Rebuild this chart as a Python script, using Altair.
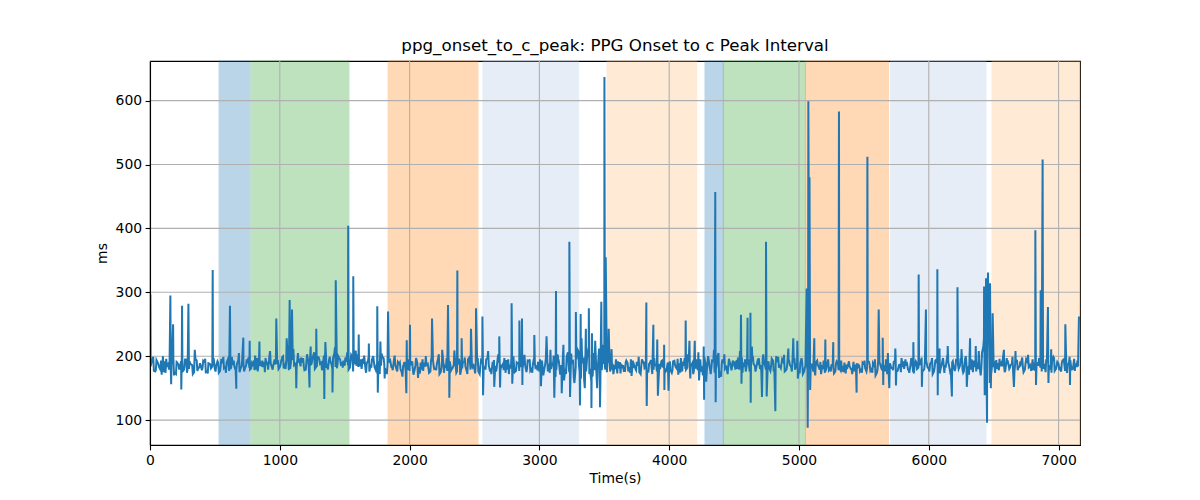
import altair as alt
import pandas as pd

TITLE = "ppg_onset_to_c_peak: PPG Onset to c Peak Interval"

base_vals = [
    182, 196, 176, 190, 179, 200, 174, 188, 181, 197, 172, 186, 192, 178, 195, 180, 187, 175, 193, 183, 178, 191, 176, 188, 184,
    179, 192, 177, 189, 183, 195, 180, 186, 178, 194, 182, 190, 185, 198, 181, 193, 179, 196, 184, 191, 186, 200, 182, 195, 188,
    183, 199, 186, 202, 180, 194, 188, 205, 184, 197, 179, 192, 187, 203, 183, 198, 190, 201, 182, 195, 186, 204, 181, 196, 189,
    185, 206, 182, 198, 190, 203, 184, 196, 180, 193, 187, 200, 178, 192, 185, 197, 176, 190, 183, 195, 179, 188, 174, 191, 182,
    177, 192, 180, 189, 173, 195, 184, 188, 176, 194, 181, 197, 175, 190, 183, 199, 178, 186, 174, 196, 182, 191, 177, 198, 185,
    180, 194, 172, 189, 183, 197, 176, 191, 185, 199, 178, 188, 174, 195, 181, 200, 177, 190, 183, 196, 175, 192, 180, 198, 184,
    176, 193, 182, 199, 174, 190, 185, 203, 171, 195, 180, 206, 168, 192, 183, 208, 165, 198, 176, 215, 160, 205, 170, 212, 178,
    188, 175, 194, 179, 186, 173, 191, 181, 177, 189, 174, 193, 180, 185, 172, 190, 183, 176, 194, 179, 187, 171, 192, 182, 178,
    186, 174, 193, 180, 189, 176, 197, 182, 175, 190, 184, 178, 195, 170, 188, 200, 172, 192, 181, 205, 168, 189, 183, 196, 178,
    187, 194, 179, 198, 183, 190, 176, 200, 185, 192, 180, 196, 184, 189, 177, 193, 186, 199, 181, 191, 178, 195, 183, 190, 186,
    180, 197, 176, 192, 182, 188, 177, 193, 179, 186, 174, 190, 181, 187, 176, 189, 178, 185, 173, 188, 180, 191, 175, 186, 179,
    188, 176, 191, 180, 185, 174, 190, 178, 186, 172, 189, 181, 193, 177, 187, 183, 195, 179, 188, 175, 192, 182, 186, 178, 194,
    180, 191, 176, 195, 183, 188, 174, 197, 181, 190, 177, 193, 185, 179, 196, 182, 188, 175, 194, 180, 170, 215, 160, 225, 172,
    183, 194, 178, 190, 185, 197, 180, 188, 176, 193, 184, 198, 179, 191, 186, 195, 177, 189, 182, 196, 175, 192, 184, 199, 180,
    188, 176, 195, 181, 190, 178, 196, 183,
]
# Baseline samples at t = 10, 30, 50, ...
base_vals_odd = [
    189, 177, 194, 183, 171, 192, 185, 179, 198, 174, 190, 183, 176, 195, 181, 188, 172, 196, 180, 186, 193, 175, 189, 181, 197,
    185, 174, 196, 181, 190, 177, 199, 184, 188, 175, 194, 180, 192, 179, 187, 201, 176, 190, 183, 197, 179, 189, 186, 192, 180,
    192, 181, 195, 178, 201, 186, 183, 196, 190, 178, 203, 185, 194, 180, 199, 188, 184, 207, 179, 192, 197, 183, 200, 187, 193,
    191, 179, 202, 188, 185, 197, 180, 201, 189, 176, 195, 183, 190, 172, 199, 181, 187, 194, 178, 186, 191, 180, 184, 177, 195,
    186, 171, 197, 183, 179, 190, 186, 174, 199, 180, 188, 172, 193, 185, 177, 192, 181, 195, 187, 171, 190, 184, 195, 179, 188,
    188, 176, 193, 179, 195, 186, 172, 194, 180, 190, 184, 197, 179, 187, 192, 175, 189, 196, 180, 186, 193, 177, 188, 182, 191,
    186, 170, 197, 188, 180, 201, 178, 192, 186, 162, 199, 175, 190, 158, 212, 176, 189, 150, 204, 180, 168, 224, 182, 160, 218,
    179, 190, 184, 172, 195, 181, 188, 177, 193, 183, 169, 186, 191, 175, 195, 181, 177, 189, 172, 186, 193, 180, 184, 175, 190,
    178, 192, 183, 171, 197, 185, 179, 191, 186, 177, 195, 162, 184, 199, 178, 186, 193, 174, 198, 176, 195, 180, 172, 189, 193,
    179, 198, 185, 190, 176, 195, 184, 188, 181, 197, 175, 191, 188, 182, 196, 180, 191, 185, 195, 176, 188, 186, 193, 179, 196,
    189, 172, 185, 193, 180, 176, 190, 184, 172, 193, 181, 178, 186, 173, 192, 182, 176, 190, 180, 184, 172, 187, 182, 176, 190,
    181, 193, 177, 189, 170, 193, 184, 180, 195, 178, 182, 191, 176, 186, 197, 180, 191, 174, 193, 184, 180, 195, 176, 191, 183,
    188, 172, 193, 186, 179, 197, 182, 191, 177, 185, 194, 180, 192, 176, 188, 171, 195, 183, 190, 186, 205, 165, 210, 158, 200,
    174, 189, 186, 195, 178, 191, 186, 174, 194, 182, 189, 175, 195, 183, 177, 190, 186, 197, 176, 188, 190, 180, 193, 177, 191,
    181, 193, 177, 186, 194, 179, 189, 184,
]
# Baseline samples at t = 5, 25, 45, ...
base_vals_q = [
    184, 199, 178, 187, 193, 175, 196, 181, 186, 170, 191, 179, 198, 183, 174, 192, 186, 210, 177, 189, 182, 196, 173, 187, 191,
    176, 190, 186, 199, 174, 188, 182, 193, 179, 205, 184, 176, 195, 182, 189, 178, 197, 185, 193, 175, 191, 208, 179, 187, 194,
    186, 200, 180, 193, 189, 211, 179, 190, 198, 184, 192, 176, 188, 206, 183, 195, 178, 191, 187, 199, 180, 214, 188, 195, 182,
    198, 186, 193, 176, 209, 183, 195, 188, 174, 200, 182, 191, 185, 179, 204, 188, 172, 193, 183, 201, 176, 190, 168, 186, 179,
    192, 180, 186, 166, 190, 177, 200, 181, 193, 185, 178, 203, 182, 174, 197, 186, 180, 209, 176, 192, 181, 198, 172, 190, 183,
    173, 197, 184, 190, 179, 208, 181, 186, 176, 203, 185, 178, 194, 172, 199, 183, 190, 177, 186, 202, 181, 195, 174, 189, 178,
    195, 181, 188, 176, 210, 185, 168, 196, 180, 218, 172, 188, 204, 166, 195, 185, 228, 162, 190, 172, 236, 178, 150, 200, 190,
    182, 196, 176, 188, 180, 192, 173, 186, 190, 176, 195, 182, 178, 199, 185, 190, 174, 188, 181, 197, 176, 188, 193, 181, 186,
    192, 178, 186, 196, 174, 191, 180, 203, 188, 172, 181, 206, 176, 190, 160, 194, 182, 210, 184, 166, 188, 203, 179, 192, 184,
    192, 180, 208, 174, 195, 187, 181, 199, 176, 190, 186, 203, 179, 192, 185, 176, 200, 182, 188, 202, 180, 192, 176, 197, 183,
    173, 189, 182, 178, 192, 184, 170, 186, 191, 180, 184, 195, 176, 182, 188, 178, 193, 175, 187, 192, 180, 176, 189, 184, 174,
    193, 182, 186, 174, 195, 179, 188, 191, 176, 205, 186, 178, 197, 181, 175, 192, 185, 179, 197, 173, 190, 185, 198, 180, 188,
    176, 197, 182, 189, 173, 193, 186, 204, 175, 192, 181, 187, 197, 174, 200, 183, 179, 193, 176, 208, 182, 228, 172, 235, 180,
    192, 180, 196, 184, 175, 190, 182, 199, 187, 178, 192, 183, 188, 202, 181, 178, 193, 185, 210, 180, 195, 186, 174, 197, 185,
    178, 190, 186, 174, 199, 184, 177, 193,
]
base_t = list(range(0, 20 * len(base_vals), 20))
base_t_odd = list(range(10, 20 * len(base_vals_odd) + 10, 20))
base_t_q = list(range(5, 20 * len(base_vals_q) + 5, 20))

# Spikes and dips (time in s, value in ms)
spike_t = [3, 157, 163, 178, 241, 247, 296, 483, 616, 665, 719, 768, 843, 973, 1053, 1076, 1094, 1127,
           1229, 1238, 1281, 1343, 1351, 1406, 1431, 1527, 1566, 1608, 1686, 1751, 1755, 1775, 1808,
           1834, 1975, 1978, 2003, 2173, 2251, 2296, 2306, 2368, 2401, 2473, 2512, 2561, 2566, 2652,
           2691, 2697, 2786, 2791, 2846, 2866, 2869, 2961, 3012, 3055, 3115, 3128, 3172, 3231, 3236,
           3281, 3313, 3318, 3358, 3381, 3401, 3467, 3477, 3501, 3511, 3534, 3556, 3824, 3827, 3878,
           3908, 3913, 3961, 3963, 3995, 4127, 4156, 4163, 4197, 4266, 4269, 4355, 4358, 4553, 4557,
           4604, 4626, 4628, 4637, 4715, 4746, 4751, 4818, 4918, 4956, 4987, 4991, 5059, 5067, 5072,
           5081, 5086, 5118, 5203, 5264, 5308, 5444, 5527, 5614, 5645, 5649, 5696, 5742, 5747, 5881,
           5922, 5947, 5978, 6066, 6069, 6083, 6146, 6178, 6221, 6252, 6293, 6318, 6362, 6426, 6431,
           6441, 6449, 6456, 6472, 6478, 6492, 6579, 6656, 6668, 6821, 6826, 6862, 6877, 6918, 6922,
           6943, 7052, 7088, 7157]
spike_v = [297, 295, 156, 250, 148, 279, 282, 335, 279, 149, 229, 224, 223, 259, 228, 288, 273, 150,
           151, 215, 243, 133, 222, 143, 319, 404, 325, 234, 220, 278, 143, 223, 165,
           270, 142, 225, 249, 259, 210, 280, 135, 334, 228, 243, 275, 262, 139, 152,
           231, 151, 283, 157, 256, 259, 155, 233, 153, 231, 135, 302, 142, 379, 136,
           269, 123, 266, 243, 275, 119, 120, 285, 637, 355, 243, 211, 284, 122, 249,
           226, 138, 218, 147, 146, 256, 224, 165, 224, 215, 132, 457, 128, 265, 157,
           260, 268, 127, 215, 136, 379, 137, 114, 212, 228, 224, 165, 306, 88, 599,
           480, 147, 228, 226, 222, 583, 143, 512, 273, 229, 155, 150, 212, 154, 222,
           328, 152, 273, 336, 139, 212, 216, 137, 308, 211, 152, 228, 216, 309, 139,
           322, 96, 331, 314, 150, 267, 210, 152, 208, 397, 155, 303, 508, 277, 158,
           211, 250, 155, 262]

# Shaded periods
span_start = [532, 778, 1834, 2565, 3521, 4276, 4417, 5049, 5706, 6487]
span_end = [770, 1533, 2527, 3302, 4212, 4417, 5049, 5690, 6441, 7165]
span_color = ["#1f77b4", "#2ca02c", "#ff7f0e", "#aec7e8", "#ffbb78",
              "#1f77b4", "#2ca02c", "#ff7f0e", "#aec7e8", "#ffbb78"]

x_ticks = [0, 1000, 2000, 3000, 4000, 5000, 6000, 7000]
y_ticks = [100, 200, 300, 400, 500, 600]

pts = sorted(list(zip(base_t, base_vals)) + list(zip(base_t_odd, base_vals_odd))
             + list(zip(base_t_q, base_vals_q)) + list(zip(spike_t, spike_v)))
series = pd.DataFrame(pts, columns=["t", "v"])
spans = pd.DataFrame({"start": span_start, "end": span_end, "color": span_color})
xg = pd.DataFrame({"x": x_ticks})
yg = pd.DataFrame({"y": y_ticks})

XD = [0, 7165]
YD = [61, 662]
FONT = "DejaVu Sans"

xscale = alt.Scale(domain=XD, nice=False, zero=False)
yscale = alt.Scale(domain=YD, nice=False, zero=False)

span_layer = alt.Chart(spans).mark_rect(opacity=0.3, strokeWidth=1).encode(
    x=alt.X("start:Q", scale=xscale),
    x2="end:Q",
    fill=alt.Fill("color:N", scale=None),
    stroke=alt.Stroke("color:N", scale=None),
)

xgrid = alt.Chart(xg).mark_rule(color="#b0b0b0", strokeWidth=1.1).encode(
    x=alt.X("x:Q", scale=xscale)
)
ygrid = alt.Chart(yg).mark_rule(color="#b0b0b0", strokeWidth=1.1).encode(
    y=alt.Y("y:Q", scale=yscale)
)

line = alt.Chart(series).mark_line(color="#1f77b4", strokeWidth=2, clip=True).encode(
    x=alt.X("t:Q", scale=xscale,
            axis=alt.Axis(title="Time(s)", values=x_ticks, grid=False, format="d",
                          labelFlush=False, zindex=1)),
    y=alt.Y("v:Q", scale=yscale,
            axis=alt.Axis(title="ms", values=y_ticks, grid=False, format="d", zindex=1)),
)

chart = alt.layer(span_layer, xgrid, ygrid, line).properties(
    width=930,
    height=384,
    title=alt.TitleParams(TITLE, fontSize=16.7, font=FONT, fontWeight="normal",
                          color="black", anchor="middle", offset=6),
    autosize=alt.AutoSizeParams(type="none"),
    padding={"left": 142, "top": 53, "right": 100, "bottom": 40},
).configure_view(
    stroke="black", strokeWidth=1.1
).configure_axis(
    labelFont=FONT, titleFont=FONT, labelFontSize=13.9, titleFontSize=13.9,
    titleFontWeight="normal", labelColor="black", titleColor="black",
    domainColor="black", domainWidth=1.1, tickColor="black", tickWidth=1.1,
    tickSize=4.9, labelPadding=3.5,
).configure_axisX(titlePadding=4).configure_axisY(titlePadding=6)

chart.save("out.html", embed_options={"renderer": "svg", "actions": False})
